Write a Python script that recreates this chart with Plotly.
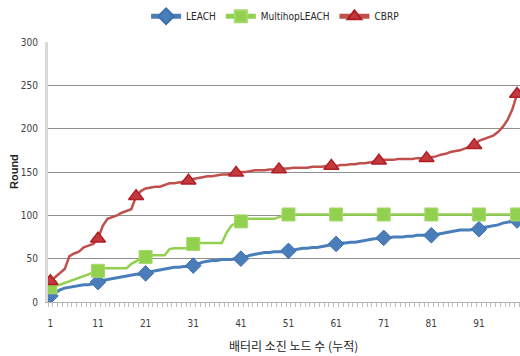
import plotly.graph_objects as go

# Number of battery-depleted nodes (cumulative), 1..99
nodes = list(range(1, 100))

leach = [
    7, 11, 14, 16, 17, 18, 19, 20, 20, 21,
    23, 25, 26, 27, 28, 29, 30, 31, 32, 32,
    33, 35, 36, 37, 38, 39, 40, 40, 41, 41,
    42, 44, 46, 47, 48, 48, 49, 49, 49, 50,
    50, 52, 54, 55, 56, 57, 57, 58, 58, 58,
    59, 60, 61, 62, 62, 63, 63, 64, 65, 66,
    67, 68, 68, 69, 69, 70, 71, 72, 73, 73,
    74, 74, 75, 75, 75, 76, 76, 77, 77, 77,
    77, 78, 79, 80, 81, 82, 83, 83, 83, 84,
    84, 86, 87, 88, 89, 91, 92, 93, 94,
]

multihop_leach = [
    17, 19, 20, 22, 24, 26, 28, 30, 32, 34,
    36, 39, 39, 39, 39, 39, 39, 44, 47, 50,
    52, 54, 54, 54, 54, 61, 62, 62, 62, 62,
    67, 68, 68, 68, 68, 68, 68, 80, 88, 91,
    93, 96, 96, 96, 96, 96, 96, 96, 98, 100,
    101, 101, 101, 101, 101, 101, 101, 101, 101, 101,
    101, 101, 101, 101, 101, 101, 101, 101, 101, 101,
    101, 101, 101, 101, 101, 101, 101, 101, 101, 101,
    101, 101, 101, 101, 101, 101, 101, 101, 101, 101,
    101, 101, 101, 101, 101, 101, 101, 101, 101,
]

cbrp = [
    24, 29, 33, 38, 53, 56, 58, 63, 65, 67,
    73, 88, 96, 98, 100, 103, 105, 107, 122, 128,
    131, 132, 133, 133, 135, 137, 137, 138, 139, 140,
    142, 143, 144, 145, 145, 146, 147, 147, 148, 149,
    150, 150, 151, 152, 152, 152, 153, 153, 153, 154,
    154, 155, 155, 155, 155, 156, 156, 156, 157, 157,
    157, 158, 158, 159, 159, 160, 160, 161, 162, 163,
    164, 164, 164, 165, 165, 165, 165, 166, 166, 166,
    167, 168, 170, 171, 173, 174, 175, 177, 179, 181,
    186, 188, 190, 192, 196, 202, 210, 222, 240,
]

# Points that carry a marker symbol
leach_marked = [1, 11, 21, 31, 41, 51, 61, 71, 81, 91, 99]
multihop_marked = [1, 11, 21, 31, 41, 51, 61, 71, 81, 91, 99]
cbrp_marked = [1, 11, 19, 30, 40, 49, 60, 70, 80, 90, 99]

x_ticks = [1, 11, 21, 31, 41, 51, 61, 71, 81, 91]
y_ticks = [0, 50, 100, 150, 200, 250, 300]

AXIS_FONT = "Liberation Sans Narrow, Arial Narrow, DejaVu Sans Condensed, sans-serif"


def marker_sizes(marked, size):
    return [size if n in marked else 0 for n in nodes]


def marker_widths(marked, width):
    return [width if n in marked else 0 for n in nodes]


fig = go.Figure()

fig.add_trace(go.Scatter(
    x=nodes, y=leach, name="LEACH", mode="lines+markers",
    line=dict(color="#4A7EBB", width=3),
    marker=dict(symbol="diamond", color="#4A7EBB", opacity=1,
                size=marker_sizes(leach_marked, 12),
                line=dict(color="#3F6FA8", width=marker_widths(leach_marked, 1))),
))

fig.add_trace(go.Scatter(
    x=nodes, y=multihop_leach, name="MultihopLEACH", mode="lines+markers",
    line=dict(color="#92D050", width=2.5),
    marker=dict(symbol="square", color="#92D050", opacity=1,
                size=marker_sizes(multihop_marked, 13),
                line=dict(color="#A4DA6A", width=marker_widths(multihop_marked, 1))),
))

fig.add_trace(go.Scatter(
    x=nodes, y=cbrp, name="CBRP", mode="lines+markers",
    line=dict(color="#C0504D", width=2.5),
    marker=dict(symbol="triangle-up", color="#C23A3D", opacity=1,
                size=marker_sizes(cbrp_marked, 13),
                line=dict(color="#B01E24", width=marker_widths(cbrp_marked, 1.5))),
))

fig.update_layout(
    width=520, height=356,
    margin=dict(l=48, r=0, t=42, b=54),
    paper_bgcolor="white", plot_bgcolor="white",
    font=dict(family=AXIS_FONT, size=10, color="#404040"),
    showlegend=True,
    legend=dict(
        orientation="h", xref="container", yref="container",
        x=0.53, xanchor="center", y=0.995, yanchor="top",
        font=dict(family=AXIS_FONT, size=10, color="#262626"),
        itemsizing="constant", itemwidth=30,
        bgcolor="rgba(0,0,0,0)",
    ),
)

fig.update_xaxes(
    range=[0.5, 99.62],
    tickvals=x_ticks, ticktext=[str(v) for v in x_ticks],
    ticks="", ticklabelstandoff=12,
    minor=dict(tick0=0.5, dtick=1, ticks="outside", ticklen=4,
               tickcolor="#BFBFBF", tickwidth=1, showgrid=False),
    showgrid=False, zeroline=False,
    showline=True, linecolor="#B0B0B0", linewidth=1,
    tickfont=dict(family=AXIS_FONT, size=10, color="#404040"),
)

fig.update_yaxes(
    range=[0, 300],
    tickvals=y_ticks,
    ticks="", ticklabelstandoff=5,
    showgrid=True, gridcolor="#8F8F8F", gridwidth=1,
    zeroline=False,
    showline=True, linecolor="#D9D9D9", linewidth=3,
    tickfont=dict(family=AXIS_FONT, size=10, color="#404040"),
)

# Axis titles
fig.add_annotation(
    text="배터리 소진 노드 수 (누적)", xref="paper", yref="paper",
    x=0.52, y=0, yshift=-43, xanchor="center", yanchor="middle",
    showarrow=False,
    font=dict(family="Noto Sans CJK KR", size=12, color="#262626"),
)
fig.add_annotation(
    text="<b>Round</b>", xref="paper", yref="paper",
    x=0, xshift=-34, y=0.5, xanchor="center", yanchor="middle", textangle=-90,
    showarrow=False,
    font=dict(family="Liberation Sans, Arial, sans-serif", size=11, color="#262626"),
)

fig.write_html("out.html")
